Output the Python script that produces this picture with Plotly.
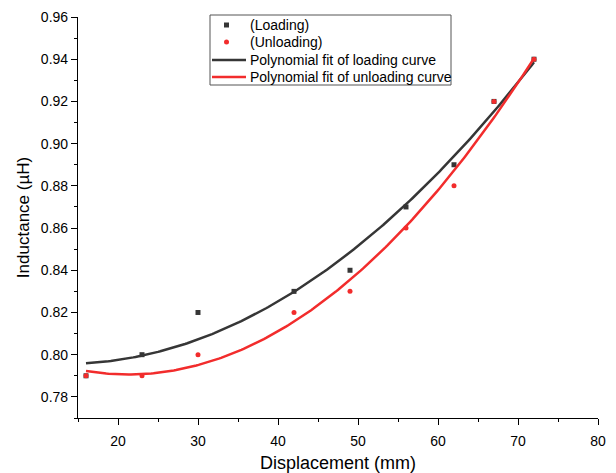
import numpy as np
import plotly.graph_objects as go

# Measured inductance vs displacement
displacement = [16, 23, 30, 42, 49, 56, 62, 67, 72]
loading = [0.79, 0.80, 0.82, 0.83, 0.84, 0.87, 0.89, 0.92, 0.94]
unloading = [0.79, 0.79, 0.80, 0.82, 0.83, 0.86, 0.88, 0.92, 0.94]

x_tick_vals = [20, 30, 40, 50, 60, 70, 80]
y_tick_vals = [0.78, 0.80, 0.82, 0.84, 0.86, 0.88, 0.90, 0.92, 0.94, 0.96]

legend_labels = ["(Loading)", "(Unloading)",
                 "Polynomial fit of loading curve",
                 "Polynomial fit of unloading curve"]

# Quadratic fits over the measured range
xf = np.linspace(min(displacement), max(displacement), 200)
fit_load = np.polyval(np.polyfit(displacement, loading, 2), xf)
fit_unload = np.polyval(np.polyfit(displacement, unloading, 2), xf)

DARK = "#363636"
RED = "#f22c2c"
FONT = "Liberation Sans, Arial, sans-serif"

W, H = 616, 473
M_L, M_R, M_T, M_B = 78, 18, 17, 55
PW, PH = W - M_L - M_R, H - M_T - M_B


def px(xp):
    """Pixel column -> paper x."""
    return (xp - M_L) / PW


def py(yp):
    """Pixel row (from top) -> paper y."""
    return (H - M_B - yp) / PH


fig = go.Figure()
fig.add_trace(go.Scatter(x=displacement, y=loading, mode="markers", name=legend_labels[0],
                         marker=dict(symbol="square", size=5, color=DARK)))
fig.add_trace(go.Scatter(x=displacement, y=unloading, mode="markers", name=legend_labels[1],
                         marker=dict(symbol="circle", size=5, color=RED)))
fig.add_trace(go.Scatter(x=xf, y=fit_load, mode="lines", name=legend_labels[2],
                         line=dict(color=DARK, width=2.5)))
fig.add_trace(go.Scatter(x=xf, y=fit_unload, mode="lines", name=legend_labels[3],
                         line=dict(color=RED, width=2.5)))

axis_common = dict(showline=True, linecolor="black", linewidth=1.2, mirror=False,
                   ticks="outside", ticklen=6, tickcolor="black", tickwidth=1,
                   showgrid=False, zeroline=False, automargin=False,
                   tickfont=dict(family=FONT, size=14, color="black"))

fig.update_xaxes(range=[15, 80], tickvals=x_tick_vals, ticklabelstandoff=4,
                 minor=dict(dtick=5, ticks="outside", ticklen=3, tickcolor="black"),
                 title=dict(text="Displacement (mm)", font=dict(family=FONT, size=18, color="black"),
                            standoff=8),
                 **axis_common)
fig.update_yaxes(range=[0.77, 0.96], tickvals=y_tick_vals, tickformat=".2f",
                 minor=dict(dtick=0.01, ticks="outside", ticklen=3, tickcolor="black"),
                 title=dict(text="Inductance (µH)", font=dict(family=FONT, size=17, color="black"),
                            standoff=6),
                 **axis_common)

# Compact boxed legend
shapes = [dict(type="rect", xref="paper", yref="paper",
               x0=px(210), x1=px(451), y0=py(85), y1=py(15),
               line=dict(color="#555555", width=1), fillcolor="white", layer="above")]
annotations = []
rows = [25, 42, 60, 77]
# marker samples
shapes.append(dict(type="rect", xref="paper", yref="paper",
                   x0=px(224), x1=px(229), y0=py(rows[0] + 2.5), y1=py(rows[0] - 2.5),
                   line=dict(width=0), fillcolor=DARK, layer="above"))
shapes.append(dict(type="circle", xref="paper", yref="paper",
                   x0=px(224), x1=px(229), y0=py(rows[1] + 2.5), y1=py(rows[1] - 2.5),
                   line=dict(width=0), fillcolor=RED, layer="above"))
# line samples
for r, c in [(rows[2], DARK), (rows[3], RED)]:
    shapes.append(dict(type="line", xref="paper", yref="paper",
                       x0=px(212), x1=px(246), y0=py(r), y1=py(r),
                       line=dict(color=c, width=2.5), layer="above"))
for r, label in zip(rows, legend_labels):
    annotations.append(dict(xref="paper", yref="paper", x=px(248), y=py(r),
                            xanchor="left", yanchor="middle", showarrow=False,
                            text=label, font=dict(family=FONT, size=14, color="black")))

fig.update_layout(
    width=W, height=H,
    margin=dict(l=M_L, r=M_R, t=M_T, b=M_B),
    plot_bgcolor="white", paper_bgcolor="white",
    font=dict(family=FONT, size=14, color="black"),
    showlegend=False,
    shapes=shapes,
    annotations=annotations,
)

fig.write_html("out.html")
